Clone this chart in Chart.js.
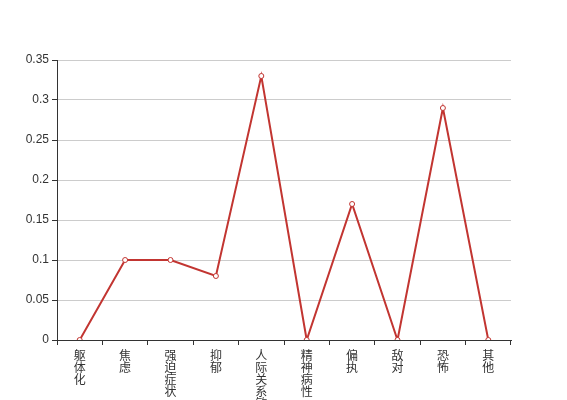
<!DOCTYPE html>
<html lang="zh-CN">
<head>
  <meta charset="UTF-8">
  <title>因子分布</title>
  <script src="https://cdn.jsdelivr.net/npm/chart.js@4.4.1/dist/chart.umd.min.js"></script>
  <style>
    html, body { margin: 0; padding: 0; background: #fff; }
    #wrap { width: 567px; height: 400px; }
  </style>
</head>
<body>
  <div id="wrap"><canvas id="myChart" width="567" height="400"></canvas></div>

  <script>
  // categories and values
  var categories = ["躯体化", "焦虑", "强迫症状", "抑郁", "人际关系敏感", "精神病性", "偏执", "敌对", "恐怖", "其他"];
  var values = [0, 0.1, 0.1, 0.08, 0.33, 0, 0.17, 0, 0.29, 0];
  var yMin = 0, yMax = 0.35, yStep = 0.05;

  // vertical labels: one character per line
  var verticalLabels = categories.map(function (c) { return c.split(""); });

  var ctx = document.getElementById("myChart");
  var myChart = new Chart(ctx, {
    type: "line",
    data: {
      labels: verticalLabels,
      datasets: [{
        data: values,
        borderColor: "#c23531",
        borderWidth: 2,
        pointRadius: 2.5,
        pointBorderWidth: 1,
        pointBackgroundColor: "#fff",
        pointBorderColor: "#c23531",
        tension: 0,
        fill: false
      }]
    },
    options: {
      responsive: false,
      animation: false,
      layout: { padding: { top: 60, right: 56, left: 0, bottom: 0 } },
      plugins: { legend: { display: false }, tooltip: { enabled: false } },
      scales: {
        x: {
          type: "category",
          offset: true,
          afterFit: function (scale) { scale.height = 60; },
          grid: { offset: true, drawOnChartArea: false, drawTicks: true, tickLength: 5, color: "#333" },
          border: { color: "#333", width: 1 },
          ticks: {
            autoSkip: false,
            maxRotation: 0,
            padding: 4,
            color: "#333",
            font: { family: "'Noto Sans CJK SC', sans-serif", size: 12, lineHeight: 1.0 }
          }
        },
        y: {
          min: yMin,
          max: yMax,
          afterFit: function (scale) { scale.width = 57; },
          grid: { color: "#ccc", tickColor: "#333", tickLength: 5 },
          border: { color: "#333", width: 1 },
          ticks: {
            stepSize: yStep,
            padding: 3,
            color: "#333",
            font: { family: "'Liberation Sans', sans-serif", size: 12 },
            // plain numbers like the reference: 0, 0.05, 0.1 ...
            callback: function (v) { return String(Math.round(v * 100) / 100); }
          }
        }
      }
    }
  });
  </script>
</body>
</html>
